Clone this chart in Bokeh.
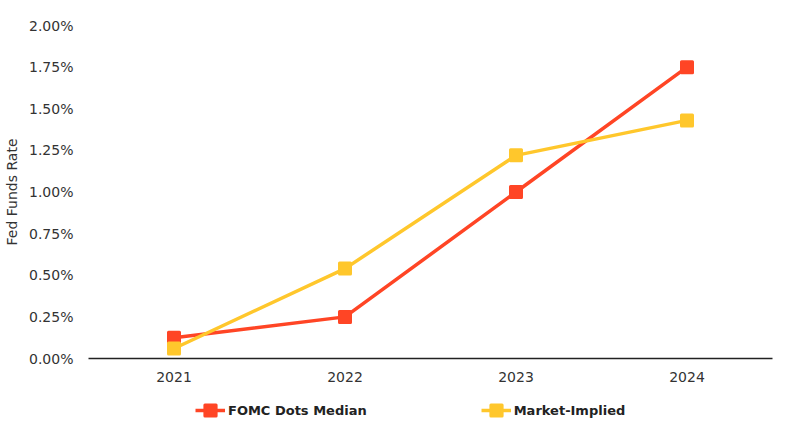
from bokeh.plotting import figure
from bokeh.layouts import column
from bokeh.models import Range1d, Legend, LegendItem, NumeralTickFormatter, FixedTicker
from bokeh.embed import file_html
from bokeh.resources import INLINE

years = ["2021", "2022", "2023", "2024"]
fomc = [0.00125, 0.0025, 0.0100, 0.0175]
market = [0.0006, 0.0054, 0.0122, 0.0143]
y_ticks = [0.0, 0.0025, 0.005, 0.0075, 0.01, 0.0125, 0.015, 0.0175, 0.02]
series_names = ["FOMC Dots Median", "Market-Implied"]

RED = "#FF4525"
YEL = "#FFC72C"
FONT = "DejaVu Sans"
TXT = "#333333"

MK = dict(marker="square", size=11, line_width=3, line_join="round")

p = figure(x_range=years, y_range=Range1d(0, 0.02), width=785, height=393,
           output_backend="svg", toolbar_location=None,
           min_border_left=88, min_border_right=13, min_border_top=25, min_border_bottom=35)
p.outline_line_color = None
p.xgrid.grid_line_color = None
p.ygrid.grid_line_color = None

p.line(years, fomc, line_color=RED, line_width=3.5)
p.scatter(years, fomc, fill_color=RED, line_color=RED, **MK)
p.line(years, market, line_color=YEL, line_width=3.5)
p.scatter(years, market, fill_color=YEL, line_color=YEL, **MK)

p.yaxis.ticker = FixedTicker(ticks=y_ticks)
p.yaxis.formatter = NumeralTickFormatter(format="0.00%")
p.yaxis.axis_line_color = None
p.yaxis.major_label_standoff = 15
p.yaxis.axis_label = "Fed Funds Rate"
p.yaxis.axis_label_text_font = FONT
p.yaxis.axis_label_text_font_style = "normal"
p.yaxis.axis_label_text_font_size = "14px"
p.yaxis.axis_label_text_color = TXT
p.yaxis.axis_label_standoff = 6

p.xaxis.axis_line_color = "#222222"
p.xaxis.axis_line_width = 1.5
p.xaxis.major_label_standoff = 13

for ax in (p.xaxis, p.yaxis):
    ax.major_tick_line_color = None
    ax.minor_tick_line_color = None
    ax.major_tick_out = 0
    ax.major_tick_in = 0
    ax.minor_tick_out = 0
    ax.minor_tick_in = 0
    ax.major_label_text_font = FONT
    ax.major_label_text_font_size = "14px"
    ax.major_label_text_color = TXT

# legend strip below the chart (series drawn out of view, only the legend shows)
lg = figure(width=785, height=32, x_range=p.x_range, y_range=Range1d(1.0, 2.0),
            output_backend="svg", toolbar_location=None,
            x_axis_location=None, y_axis_location=None,
            min_border_left=0, min_border_right=0, min_border_top=0, min_border_bottom=0)
lg.outline_line_color = None
lg.xgrid.grid_line_color = None
lg.ygrid.grid_line_color = None
a1 = lg.line(years, fomc, line_color=RED, line_width=3.5)
b1 = lg.scatter(years, fomc, fill_color=RED, line_color=RED, **MK)
a2 = lg.line(years, market, line_color=YEL, line_width=3.5)
b2 = lg.scatter(years, market, fill_color=YEL, line_color=YEL, **MK)

legend = Legend(items=[LegendItem(label=series_names[0], renderers=[a1, b1]),
                       LegendItem(label=series_names[1], renderers=[a2, b2])],
                orientation="horizontal", location=(107, 1),
                label_text_font=FONT, label_text_font_style="bold",
                label_text_font_size="13px", label_text_color="#222222",
                glyph_width=30, glyph_height=28, spacing=114, label_standoff=3,
                border_line_color=None, background_fill_alpha=0,
                padding=0, margin=0)
lg.add_layout(legend)

layout = column(p, lg, spacing=0)
open("out.html", "w").write(file_html(layout, INLINE))
